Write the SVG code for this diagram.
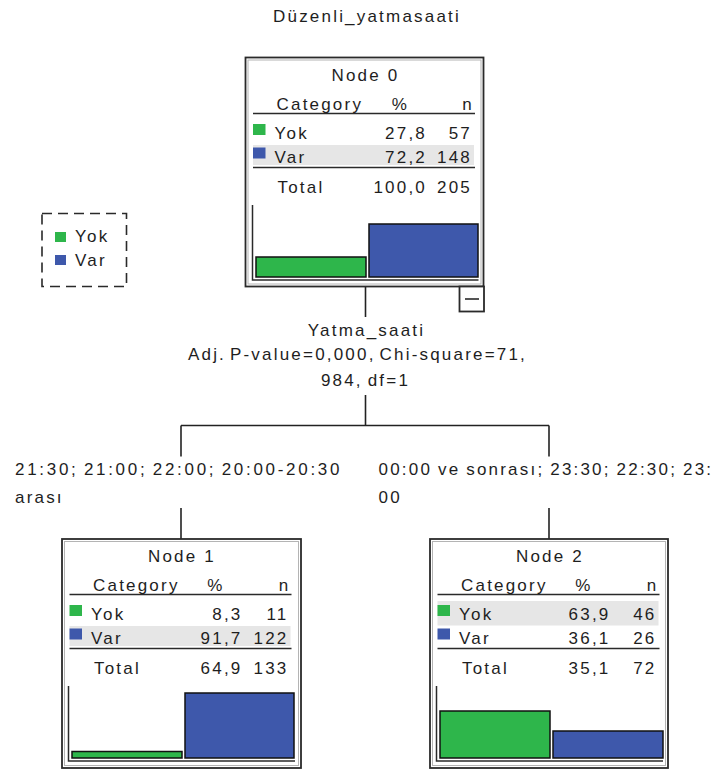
<svg xmlns="http://www.w3.org/2000/svg" width="721" height="769" viewBox="0 0 721 769">
  <style>
    .t { font-family: "Liberation Sans", Arial, sans-serif; font-size: 17px; letter-spacing: 2.2px; fill: #1e1e1e; }
    .e { text-anchor: end; }
    .m { text-anchor: middle; }
    .box { fill: #ffffff; stroke: #2a2a2a; stroke-width: 1.8; }
    .inner { fill: none; stroke: #b4b4b4; stroke-width: 1; }
    .rule { stroke: #2a2a2a; stroke-width: 1.6; }
    .band { fill: #e6e6e6; }
    .g { fill: #2eb64b; }
    .b { fill: #3e58ab; }
    .bar { stroke: #111111; stroke-width: 1.5; }
    .axis { fill: none; stroke: #2a2a2a; stroke-width: 1.5; }
    .conn line { stroke: #222222; stroke-width: 1.6; }
    .legend { fill: #ffffff; stroke: #2a2a2a; stroke-width: 1.6; stroke-dasharray: 10 6; }
  </style>

  <rect x="0" y="0" width="721" height="769" fill="#ffffff"/>

  <!-- dependent variable -->
  <text class="t m" x="367" y="22">Düzenli_yatmasaati</text>

  <!-- legend -->
  <g id="legend">
    <rect class="legend" x="42" y="213.5" width="84.5" height="73"/>
    <rect class="g" x="55" y="232" width="11" height="10"/>
    <text class="t" x="75" y="242">Yok</text>
    <rect class="b" x="55" y="255" width="11" height="10"/>
    <text class="t" x="75" y="266">Var</text>
  </g>

  <!-- connectors and split labels -->
  <g id="connectors" class="conn">
    <line x1="365.5" y1="287" x2="365.5" y2="317"/>
    <line x1="365.5" y1="395" x2="365.5" y2="425.5"/>
    <line x1="181" y1="425.5" x2="549" y2="425.5"/>
    <line x1="181" y1="425.5" x2="181" y2="456.5"/>
    <line x1="549" y1="425.5" x2="549" y2="456.5"/>
    <line x1="181" y1="508" x2="181" y2="539"/>
    <line x1="549" y1="508" x2="549" y2="539"/>
  </g>
  <g id="split-labels">
    <text class="t m" x="366.5" y="336">Yatma_saati</text>
    <text class="t m" x="357.5" y="360" style="word-spacing:-3px">Adj. P-value=0,000, Chi-square=71,</text>
    <text class="t m" x="365.5" y="386" style="word-spacing:-2px">984, df=1</text>
    <text class="t" x="15" y="474.5" style="letter-spacing:2.7px;word-spacing:-2px">21:30; 21:00; 22:00; 20:00-20:30</text>
    <text class="t" x="15" y="503">arası</text>
    <text class="t" x="378.5" y="474.5" style="word-spacing:-1px">00:00 ve sonrası; 23:30; 22:30; 23:</text>
    <text class="t" x="378.5" y="503">00</text>
  </g>

  <!-- Node 0 -->
  <g id="node0" transform="translate(245.5,57.5)">
    <rect class="box" x="0" y="0" width="238" height="229"/>
    <rect class="inner" x="2.5" y="2.5" width="233" height="224"/>
    <text class="t m" x="120" y="23">Node 0</text>
    <text class="t" x="31" y="52.5">Category</text>
    <text class="t e" x="163.5" y="52.5">%</text>
    <text class="t e" x="228.5" y="52.5">n</text>
    <line class="rule" x1="7.5" y1="56" x2="229.5" y2="56"/>
    <rect class="band" x="7.5" y="87.5" width="221" height="20"/>
    <rect class="g" x="7.5" y="66.5" width="12.5" height="11"/>
    <text class="t" x="29" y="81.5">Yok</text>
    <text class="t e" x="181.5" y="81.5">27,8</text>
    <text class="t e" x="226.5" y="81.5">57</text>
    <rect class="b" x="7.5" y="90" width="12.5" height="11"/>
    <text class="t" x="29" y="105">Var</text>
    <text class="t e" x="181.5" y="105">72,2</text>
    <text class="t e" x="226.5" y="105">148</text>
    <line class="rule" x1="7.5" y1="110" x2="229.5" y2="110"/>
    <text class="t" x="32" y="135">Total</text>
    <text class="t e" x="181.5" y="135">100,0</text>
    <text class="t e" x="226.5" y="135">205</text>
    <polyline class="axis" points="7,147.5 7,222.5 233,222.5"/>
    <rect class="g bar" x="10.5" y="199.5" width="110" height="20"/>
    <rect class="b bar" x="123.5" y="166.5" width="109" height="53"/>
    <!-- collapse toggle -->
    <rect class="box" x="214" y="229" width="24.5" height="25"/>
    <line class="rule" x1="219.5" y1="241.5" x2="233.5" y2="241.5" stroke-width="2"/>
  </g>

  <!-- Node 1 -->
  <g id="node1" transform="translate(62,539)">
    <rect class="box" x="0" y="0" width="239" height="229"/>
    <rect class="inner" x="2.5" y="2.5" width="234" height="224"/>
    <text class="t m" x="120" y="22.5">Node 1</text>
    <text class="t" x="31" y="52">Category</text>
    <text class="t e" x="162.5" y="52">%</text>
    <text class="t e" x="228.5" y="52">n</text>
    <line class="rule" x1="7.5" y1="55.5" x2="229.5" y2="55.5"/>
    <rect class="band" x="7.5" y="87" width="221" height="20"/>
    <rect class="g" x="7.5" y="66" width="12.5" height="11"/>
    <text class="t" x="29" y="80.5">Yok</text>
    <text class="t e" x="180.5" y="80.5">8,3</text>
    <text class="t e" x="226.5" y="80.5">11</text>
    <rect class="b" x="7.5" y="89.5" width="12.5" height="11"/>
    <text class="t" x="29" y="104.5">Var</text>
    <text class="t e" x="180.5" y="104.5">91,7</text>
    <text class="t e" x="226.5" y="104.5">122</text>
    <line class="rule" x1="7.5" y1="109.5" x2="229.5" y2="109.5"/>
    <text class="t" x="32" y="134.5">Total</text>
    <text class="t e" x="180.5" y="134.5">64,9</text>
    <text class="t e" x="226.5" y="134.5">133</text>
    <polyline class="axis" points="6.5,147 6.5,222 233,222"/>
    <rect class="g bar" x="10" y="212.5" width="110" height="6.5"/>
    <rect class="b bar" x="123" y="154" width="109" height="65"/>
  </g>

  <!-- Node 2 -->
  <g id="node2" transform="translate(430,539)">
    <rect class="box" x="0" y="0" width="238" height="229"/>
    <rect class="inner" x="2.5" y="2.5" width="233" height="224"/>
    <text class="t m" x="120" y="22.5">Node 2</text>
    <text class="t" x="31" y="52">Category</text>
    <text class="t e" x="162.5" y="52">%</text>
    <text class="t e" x="228.5" y="52">n</text>
    <line class="rule" x1="7.5" y1="55.5" x2="229.5" y2="55.5"/>
    <rect class="band" x="7.5" y="62" width="221" height="24.5"/>
    <rect class="g" x="7.5" y="66" width="12.5" height="11"/>
    <text class="t" x="29" y="80.5">Yok</text>
    <text class="t e" x="180.5" y="80.5">63,9</text>
    <text class="t e" x="226.5" y="80.5">46</text>
    <rect class="b" x="7.5" y="89.5" width="12.5" height="11"/>
    <text class="t" x="29" y="104.5">Var</text>
    <text class="t e" x="180.5" y="104.5">36,1</text>
    <text class="t e" x="226.5" y="104.5">26</text>
    <line class="rule" x1="7.5" y1="109.5" x2="229.5" y2="109.5"/>
    <text class="t" x="32" y="134.5">Total</text>
    <text class="t e" x="180.5" y="134.5">35,1</text>
    <text class="t e" x="226.5" y="134.5">72</text>
    <polyline class="axis" points="6.5,147 6.5,222 233,222"/>
    <rect class="g bar" x="10" y="172" width="110" height="47"/>
    <rect class="b bar" x="123" y="192" width="110" height="27"/>
  </g>
</svg>
